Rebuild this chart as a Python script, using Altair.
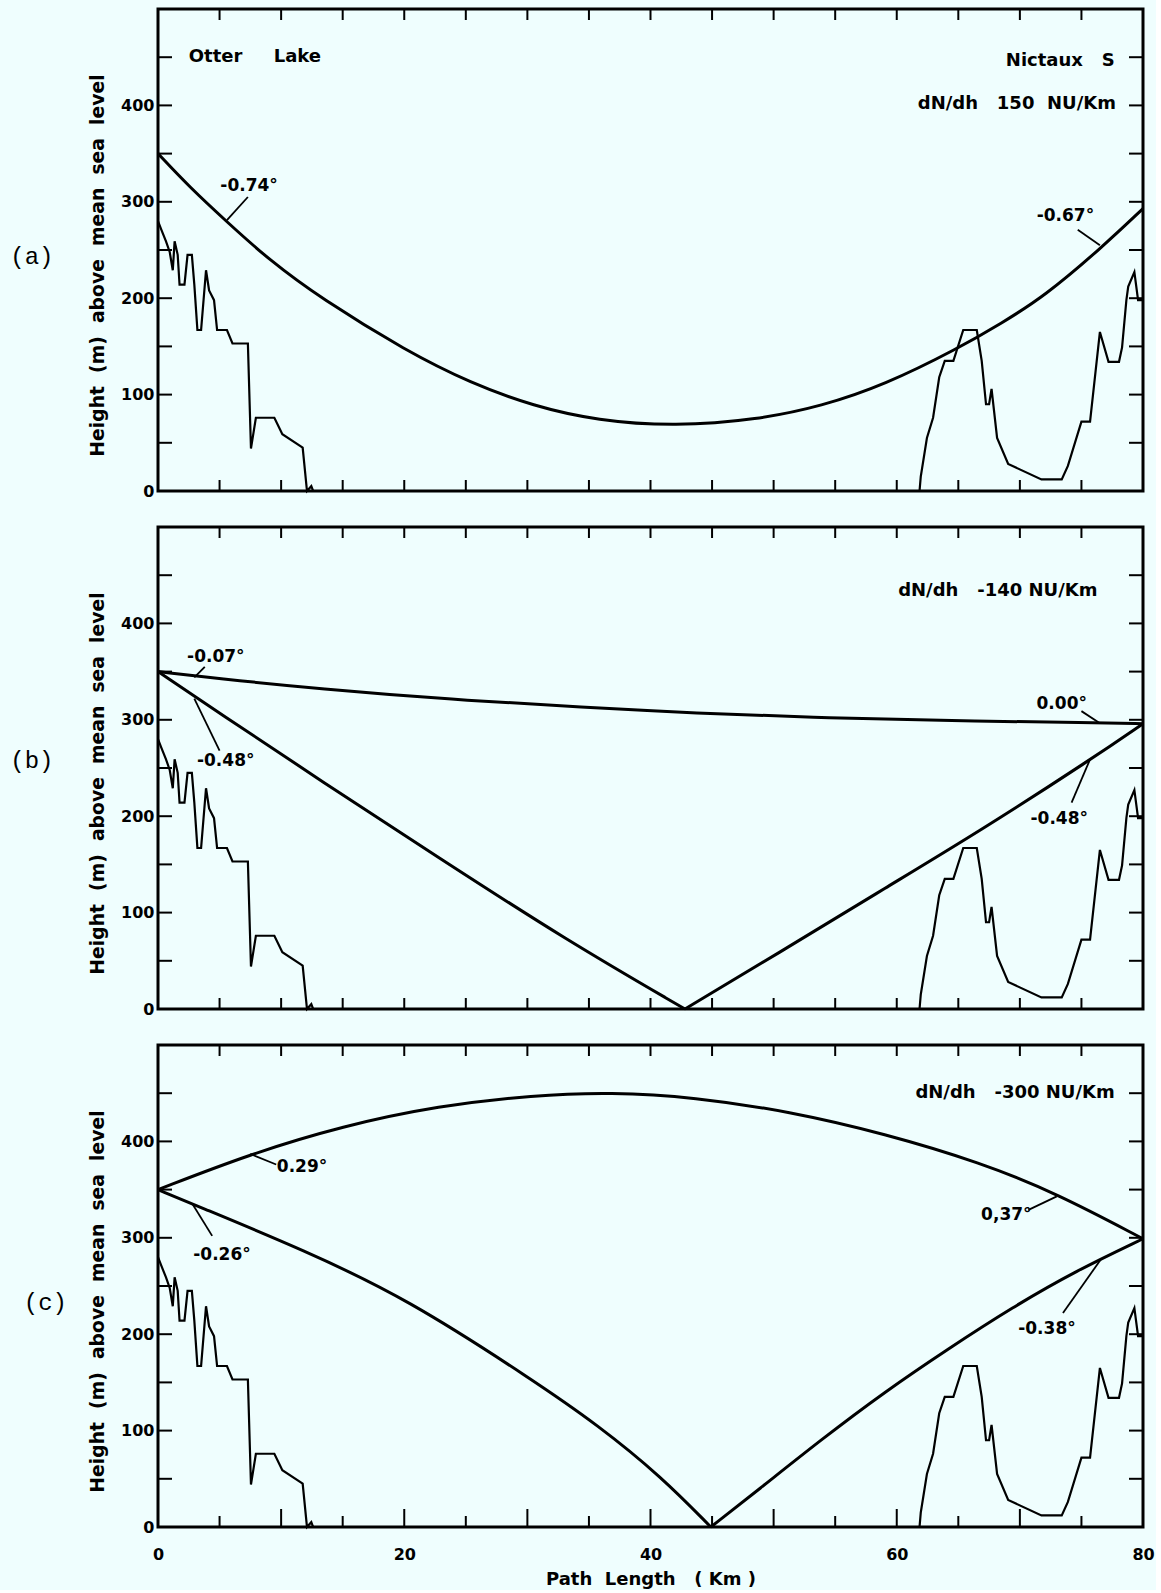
import altair as alt
import pandas as pd

NB = "\u00a0"

# ---------------- data ----------------
X_LABELS = [0, 20, 40, 60, 80]
Y_LABELS = [0, 100, 200, 300, 400]
X_TICKS_SHORT = [5, 15, 25, 35, 45, 55, 65, 75]
X_TICKS_LONG = [10, 20, 30, 40, 50, 60, 70]
Y_TICKS = [50, 100, 150, 200, 250, 300, 350, 400, 450]

TERRAIN_KM = [0, 0.3, 0.65, 0.95, 1.2, 1.35, 1.6, 1.75, 2.15, 2.4, 2.75, 2.95, 3.2, 3.5,
              3.9, 4.15, 4.55, 4.8, 5.6, 6.05, 7.3, 7.55, 7.95, 9.45, 10.1, 11.75, 12.1,
              12.45, 12.6,
              61.85, 61.95, 62.45, 62.95, 63.45, 63.9, 64.6, 65.4, 66.5, 66.9, 67.25, 67.5,
              67.7, 68.15, 69.05, 71.75, 73.4, 73.9, 75.0, 75.7, 76.5, 77.2, 78.05, 78.3,
              78.65, 78.8, 79.3, 79.6, 80]
TERRAIN_M = [280, 270, 259, 248, 229, 259, 245, 214, 214, 245, 245, 214, 167, 167,
             229, 208, 198, 167, 167, 153, 153, 44, 76, 76, 59, 45, 0,
             5, 0,
             0, 15, 55, 76, 118, 135, 135, 167, 167, 135, 90, 90,
             106, 55, 28, 12, 12, 26, 72, 72, 165, 134, 134, 149,
             198, 212, 227, 198, 198]

# panel (a) ray, dN/dh 150
A_RAY_KM = [0, 2.5, 5.7, 9, 13.2, 20.2, 25.4, 30.5, 35.7, 42, 48.7, 53.9, 59, 65,
            68.5, 72, 76.6, 80]
A_RAY_M = [350, 316, 278, 240, 200, 145, 112, 88, 73, 67, 74, 88, 110, 148,
           174, 202, 252, 293]

# panel (b) rays, dN/dh -140
B_UP_KM = [0, 4.7, 13.2, 23.8, 34.7, 43.5, 53.9, 64.2, 76.1, 80]
B_UP_M = [350, 343, 332, 321, 313, 307, 302, 299, 297, 296]
B_DN_KM = [0, 5, 13.2, 22.8, 33.1, 42.8]
B_DN_M = [350, 307, 237, 157, 72, 0]
B_AS_KM = [42.8, 51.3, 59, 66.8, 75.9, 80]
B_AS_M = [0, 65, 125, 185, 260, 296]

# panel (c) rays, dN/dh -300
C_UP_KM = [0, 7.5, 15, 22.8, 30.5, 36.8, 43.5, 51.3, 59, 66.8, 73, 80]
C_UP_M = [350, 387, 416, 437, 448, 451, 446, 431, 408, 378, 346, 299]
C_DN_KM = [0, 2.8, 11.9, 20.2, 30.5, 35.7, 40.9, 44.9]
C_DN_M = [350, 335, 287, 237, 152, 106, 52, 0]
C_AS_KM = [44.9, 48.7, 53.9, 59, 64.2, 69.4, 74.6, 80]
C_AS_M = [0, 38, 91, 140, 185, 228, 266, 299]

# angle labels and their leader lines
A_LAB_T = ["-0.74°", "-0.67°"]
A_LAB_KM = [7.4, 73.7]
A_LAB_M = [316, 285]
A_LEAD = [(5.6, 281, 7.3, 305), (74.7, 271, 76.5, 255)]

B_LAB_T = ["-0.07°", "-0.48°", "0.00°", "-0.48°"]
B_LAB_KM = [4.7, 5.5, 73.4, 73.2]
B_LAB_M = [365, 257, 316, 197]
B_LEAD = [(2.95, 344, 3.8, 355), (2.95, 322, 5.0, 268), (75.0, 309, 76.5, 296.5),
          (74.2, 214, 75.7, 259)]

C_LAB_T = ["0.29°", "0,37°", "-0.26°", "-0.38°"]
C_LAB_KM = [11.7, 68.9, 5.2, 72.2]
C_LAB_M = [373, 324, 282, 205]
C_LEAD = [(7.5, 387, 9.6, 376), (70.7, 329, 73.0, 343), (2.8, 335, 4.4, 302),
          (73.5, 222, 76.6, 278)]

# header texts: (text, km, m, align)
A_HEAD = [("Otter" + NB * 5 + "Lake", 2.5, 450, "left"),
          ("Nictaux" + NB * 3 + "S", 77.7, 446, "right"),
          ("dN/dh" + NB * 3 + "150" + NB * 2 + "NU/Km", 77.8, 401, "right")]
B_HEAD = [("dN/dh" + NB * 3 + "-140 NU/Km", 76.3, 434, "right")]
C_HEAD = [("dN/dh" + NB * 3 + "-300 NU/Km", 77.7, 450, "right")]

TAGS = [("(a)", -12.0, 243), ("(b)", -12.0, 257), ("(c)", -10.9, 232)]

Y_TITLE = NB.join(["Height", "", "(m)", "", "above", "", "mean", "", "sea", "", "level"])
X_TITLE = "Path" + NB * 2 + "Length" + NB * 3 + "(" + NB + "Km" + NB + ")"

# ---------------- chart ----------------
W, H = 985, 482
FONT = "DejaVu Sans"
BG = "#effefe"

xscale = alt.Scale(domain=[0, 80], nice=False, zero=False)
yscale = alt.Scale(domain=[0, 500], nice=False, zero=False)

terrain_df = pd.DataFrame({"km": TERRAIN_KM, "m": TERRAIN_M, "i": range(len(TERRAIN_KM))})


def rays_df(series):
    rows = []
    for name, kms, ms in series:
        for j, (k, m) in enumerate(zip(kms, ms)):
            rows.append({"km": k, "m": m, "s": name, "i": j})
    return pd.DataFrame(rows)


def panel(rays, lab_t, lab_km, lab_m, leads, heads, tag, show_x):
    if show_x:
        xaxis = alt.Axis(values=X_LABELS, ticks=False, tickSize=0, domain=False, grid=False,
                         labelPadding=19, labelFlush=False, labelFont=FONT, labelFontSize=16,
                         labelFontWeight="bold", labelColor="black",
                         title=X_TITLE, titleFont=FONT, titleFontSize=18,
                         titleFontWeight="bold", titleColor="black", titlePadding=8)
    else:
        xaxis = None
    yaxis = alt.Axis(values=Y_LABELS, ticks=False, tickSize=0, domain=False, grid=False,
                     labelPadding=4, labelFont=FONT, labelFontSize=16, labelFontWeight="bold",
                     labelColor="black",
                     title=Y_TITLE, titleFont=FONT,
                     titleFontSize=18.8, titleFontWeight="bold", titleColor="black",
                     titlePadding=13, titleY=256)

    def X(f):
        return alt.X(f, type="quantitative", scale=xscale, axis=xaxis)

    def Y(f):
        return alt.Y(f, type="quantitative", scale=yscale, axis=yaxis)

    layers = []
    layers.append(alt.Chart(terrain_df).mark_line(color="black", strokeWidth=2.2).encode(
        x=X("km"), y=Y("m"), order="i:Q"))
    layers.append(alt.Chart(rays_df(rays)).mark_line(
        color="black", strokeWidth=3, interpolate="basis").encode(
        x=X("km"), y=Y("m"), detail="s:N", order="i:Q"))

    lead_df = pd.DataFrame(leads, columns=["km1", "m1", "km2", "m2"])
    layers.append(alt.Chart(lead_df).mark_rule(color="black", strokeWidth=1.8).encode(
        x=X("km1"), x2="km2", y=Y("m1"), y2="m2"))

    lab_df = pd.DataFrame({"t": lab_t, "km": lab_km, "m": lab_m})
    layers.append(alt.Chart(lab_df).mark_text(
        font=FONT, fontSize=17, fontWeight="bold", color="black",
        align="center", baseline="middle").encode(x=X("km"), y=Y("m"), text="t:N"))

    for t, k, m, al in heads:
        hd = pd.DataFrame({"t": [t], "km": [k], "m": [m]})
        layers.append(alt.Chart(hd).mark_text(
            font=FONT, fontSize=18, fontWeight="bold", color="black",
            align=al, baseline="middle").encode(x=X("km"), y=Y("m"), text="t:N"))

    tg = pd.DataFrame({"t": [tag[0]], "km": [tag[1]], "m": [tag[2]]})
    layers.append(alt.Chart(tg).mark_text(
        font="Liberation Mono", fontSize=24, color="black",
        align="left", baseline="middle").encode(x=X("km"), y=Y("m"), text="t:N"))

    # inward ticks
    yt = pd.DataFrame({"v": Y_TICKS})
    layers.append(alt.Chart(yt).mark_rule(color="black", strokeWidth=2).encode(
        y=Y("v"), x=alt.value(0), x2=alt.value(14)))
    layers.append(alt.Chart(yt).mark_rule(color="black", strokeWidth=2).encode(
        y=Y("v"), x=alt.value(W - 14), x2=alt.value(W)))
    xt_all = pd.DataFrame({"v": sorted(X_TICKS_SHORT + X_TICKS_LONG)})
    layers.append(alt.Chart(xt_all).mark_rule(color="black", strokeWidth=2).encode(
        x=X("v"), y=alt.value(0), y2=alt.value(11)))
    if show_x:
        xs_df = pd.DataFrame({"v": X_TICKS_SHORT})
        xl_df = pd.DataFrame({"v": X_TICKS_LONG})
        layers.append(alt.Chart(xs_df).mark_rule(color="black", strokeWidth=2).encode(
            x=X("v"), y=alt.value(H - 11), y2=alt.value(H)))
        layers.append(alt.Chart(xl_df).mark_rule(color="black", strokeWidth=2).encode(
            x=X("v"), y=alt.value(H - 18), y2=alt.value(H)))
    else:
        layers.append(alt.Chart(xt_all).mark_rule(color="black", strokeWidth=2).encode(
            x=X("v"), y=alt.value(H - 11), y2=alt.value(H)))

    return alt.layer(*layers).properties(width=W, height=H)


pa = panel([("a", A_RAY_KM, A_RAY_M)], A_LAB_T, A_LAB_KM, A_LAB_M, A_LEAD, A_HEAD,
           TAGS[0], False)
pb = panel([("up", B_UP_KM, B_UP_M), ("dn", B_DN_KM, B_DN_M), ("as", B_AS_KM, B_AS_M)],
           B_LAB_T, B_LAB_KM, B_LAB_M, B_LEAD, B_HEAD, TAGS[1], False)
pc = panel([("up", C_UP_KM, C_UP_M), ("dn", C_DN_KM, C_DN_M), ("as", C_AS_KM, C_AS_M)],
           C_LAB_T, C_LAB_KM, C_LAB_M, C_LEAD, C_HEAD, TAGS[2], True)

chart = alt.vconcat(pa, pb, pc, spacing=36, bounds="flush").properties(
    padding={"left": 8, "top": 6, "right": 0, "bottom": 0},
    background=BG,
).configure_view(stroke="black", strokeWidth=3)

chart.save("out.html", embed_options={"renderer": "svg", "actions": False})
